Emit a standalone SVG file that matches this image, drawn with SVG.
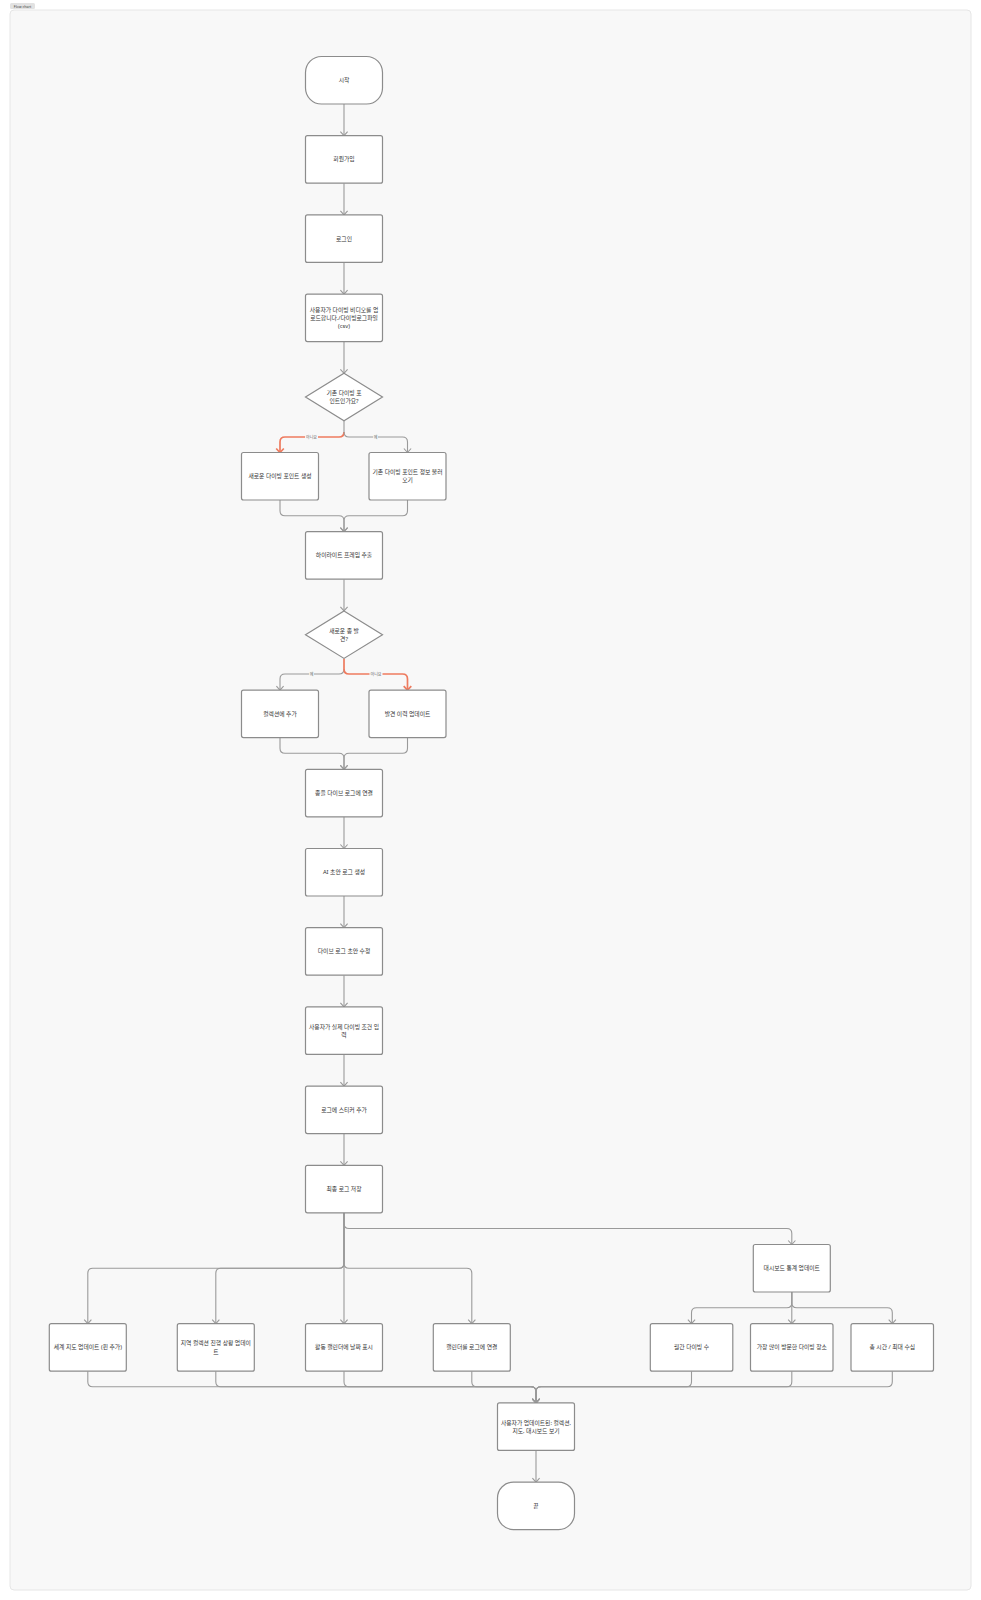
<svg xmlns="http://www.w3.org/2000/svg" width="981" height="1600" viewBox="0 0 981 1600">
<style>
.nd{fill:#ffffff;stroke:#8c8c8c;stroke-width:1.2}
.tx{font-family:"Noto Sans","Noto Sans CJK KR",sans-serif;font-size:5.8px;fill:#333333;text-anchor:middle;dominant-baseline:central}
.e{fill:none;stroke:#9a9a9a;stroke-width:1.1}
.r{fill:none;stroke:#EE7B5F;stroke-width:1.7}
.lb{font-family:"Noto Sans","Noto Sans CJK KR",sans-serif;font-size:4px;fill:#666666;text-anchor:middle;dominant-baseline:central}
.lbg{fill:#f8f8f8}
</style>
<defs>
<marker id="ag" viewBox="-6 -5 7 10" refX="0" refY="0" markerWidth="7" markerHeight="10" markerUnits="userSpaceOnUse" orient="auto">
<path d="M-4,-3.6 L0,0 L-4,3.6" fill="none" stroke="#9a9a9a" stroke-width="1.1"/>
</marker>
<marker id="ar" viewBox="-6 -5 7 10" refX="0" refY="0" markerWidth="7" markerHeight="10" markerUnits="userSpaceOnUse" orient="auto">
<path d="M-4,-3.8 L0,0 L-4,3.8" fill="none" stroke="#EE7B5F" stroke-width="1.7"/>
</marker>
</defs>
<rect x="0" y="0" width="981" height="1600" fill="#ffffff"/>
<rect x="10" y="10" width="961" height="1580" rx="4" fill="#f8f8f8" stroke="#e6e6e6" stroke-width="1"/>
<rect x="10" y="3" width="25" height="6" rx="1.5" fill="#e2e2e2"/>
<text x="22.5" y="6.1" class="lb" style="font-size:3.6px;fill:#444">Flow chart</text>

<g id="connectors">
<path class="e" marker-end="url(#ag)" d="M344,104 V135.7"/>
<path class="e" marker-end="url(#ag)" d="M344,183.2 V214.9"/>
<path class="e" marker-end="url(#ag)" d="M344,262.4 V294.1"/>
<path class="e" marker-end="url(#ag)" d="M344,341.6 V373.3"/>
<path class="r" marker-end="url(#ar)" d="M344,432 Q344,437 339,437 H285 Q280,437 280,442 V452.5"/>
<path class="e" marker-end="url(#ag)" d="M344,420.8 V432 Q344,437 349,437 H402.5 Q407.5,437 407.5,442 V452.5"/>
<path class="e" marker-end="url(#ag)" d="M280,500 V510.7 Q280,515.7 285,515.7 H339 Q344,515.7 344,520.7 V531.7"/>
<path class="e" marker-end="url(#ag)" d="M407.5,500 V510.7 Q407.5,515.7 402.5,515.7 H349 Q344,515.7 344,520.7 V531.7"/>
<path class="e" marker-end="url(#ag)" d="M344,579.2 V610.9"/>
<path class="e" marker-end="url(#ag)" d="M344,669 Q344,674 339,674 H285 Q280,674 280,679 V690.1"/>
<path class="r" marker-end="url(#ar)" d="M344,658.4 V669 Q344,674 349,674 H402.5 Q407.5,674 407.5,679 V690.1"/>
<path class="e" marker-end="url(#ag)" d="M280,737.6 V748.2 Q280,753.2 285,753.2 H339 Q344,753.2 344,758.2 V769.3"/>
<path class="e" marker-end="url(#ag)" d="M407.5,737.6 V748.2 Q407.5,753.2 402.5,753.2 H349 Q344,753.2 344,758.2 V769.3"/>
<path class="e" marker-end="url(#ag)" d="M344,816.8 V848.5"/>
<path class="e" marker-end="url(#ag)" d="M344,896 V927.7"/>
<path class="e" marker-end="url(#ag)" d="M344,975.2 V1006.9"/>
<path class="e" marker-end="url(#ag)" d="M344,1054.4 V1086.1"/>
<path class="e" marker-end="url(#ag)" d="M344,1133.6 V1165.3"/>
<path class="e" marker-end="url(#ag)" d="M344,1212.8 V1223.5 Q344,1228.5 349,1228.5 H786.8 Q791.8,1228.5 791.8,1233.5 V1244.5"/>
<path class="e" marker-end="url(#ag)" d="M344,1212.8 V1263.3 Q344,1268.3 339,1268.3 H92.8 Q87.8,1268.3 87.8,1273.3 V1323.7"/>
<path class="e" marker-end="url(#ag)" d="M344,1212.8 V1263.3 Q344,1268.3 339,1268.3 H220.8 Q215.8,1268.3 215.8,1273.3 V1323.7"/>
<path class="e" marker-end="url(#ag)" d="M344,1212.8 V1323.7"/>
<path class="e" marker-end="url(#ag)" d="M344,1212.8 V1263.3 Q344,1268.3 349,1268.3 H466.8 Q471.8,1268.3 471.8,1273.3 V1323.7"/>
<path class="e" marker-end="url(#ag)" d="M791.8,1292 V1302.7 Q791.8,1307.7 786.8,1307.7 H696.5 Q691.5,1307.7 691.5,1312.7 V1323.7"/>
<path class="e" marker-end="url(#ag)" d="M791.8,1292 V1323.7"/>
<path class="e" marker-end="url(#ag)" d="M791.8,1292 V1302.7 Q791.8,1307.7 796.8,1307.7 H887.3 Q892.3,1307.7 892.3,1312.7 V1323.7"/>
<path class="e" marker-end="url(#ag)" d="M87.8,1371.2 V1381.7 Q87.8,1386.7 92.8,1386.7 H531 Q536,1386.7 536,1391.7 V1402.9"/>
<path class="e" marker-end="url(#ag)" d="M215.8,1371.2 V1381.7 Q215.8,1386.7 220.8,1386.7 H531 Q536,1386.7 536,1391.7 V1402.9"/>
<path class="e" marker-end="url(#ag)" d="M344,1371.2 V1381.7 Q344,1386.7 349,1386.7 H531 Q536,1386.7 536,1391.7 V1402.9"/>
<path class="e" marker-end="url(#ag)" d="M471.8,1371.2 V1381.7 Q471.8,1386.7 476.8,1386.7 H531 Q536,1386.7 536,1391.7 V1402.9"/>
<path class="e" marker-end="url(#ag)" d="M691.5,1371.2 V1381.7 Q691.5,1386.7 686.5,1386.7 H541 Q536,1386.7 536,1391.7 V1402.9"/>
<path class="e" marker-end="url(#ag)" d="M791.8,1371.2 V1381.7 Q791.8,1386.7 786.8,1386.7 H541 Q536,1386.7 536,1391.7 V1402.9"/>
<path class="e" marker-end="url(#ag)" d="M892.3,1371.2 V1381.7 Q892.3,1386.7 887.3,1386.7 H541 Q536,1386.7 536,1391.7 V1402.9"/>
<path class="e" marker-end="url(#ag)" d="M536,1450.4 V1482.1"/>
<rect class="lbg" x="305" y="434.5" width="13" height="5"/>
<text class="lb" x="311.5" y="437">아니요</text>
<rect class="lbg" x="373" y="434.5" width="5" height="5"/>
<text class="lb" x="375.5" y="437">예</text>
<rect class="lbg" x="309" y="671.5" width="5" height="5"/>
<text class="lb" x="311.5" y="674">예</text>
<rect class="lbg" x="369.5" y="671.5" width="13" height="5"/>
<text class="lb" x="376" y="674">아니요</text>
</g>

<g id="n0"><rect class="nd" x="305.5" y="56.5" width="77" height="47.5" rx="16"/><text class="tx" x="344" y="80.25">시작</text></g>
<g id="n1"><rect class="nd" x="305.5" y="135.7" width="77" height="47.5" rx="2"/><text class="tx" x="344" y="159.45">회원가입</text></g>
<g id="n2"><rect class="nd" x="305.5" y="214.9" width="77" height="47.5" rx="2"/><text class="tx" x="344" y="238.65">로그인</text></g>
<g id="n3"><rect class="nd" x="305.5" y="294.1" width="77" height="47.5" rx="2"/><text class="tx" x="344" y="309.55">사용자가 다이빙 비디오를 업</text><text class="tx" x="344" y="317.85">로드합니다./다이빙로그파일</text><text class="tx" x="344" y="326.15">(csv)</text></g>
<g id="n4"><polygon class="nd" points="344,373.3 382.5,397.05 344,420.8 305.5,397.05"/><text class="tx" x="344" y="392.9">기존 다이빙 포</text><text class="tx" x="344" y="401.2">인트인가요?</text></g>
<g id="n5a"><rect class="nd" x="241.5" y="452.5" width="77" height="47.5" rx="2"/><text class="tx" x="280" y="476.25">새로운 다이빙 포인트 생성</text></g>
<g id="n5b"><rect class="nd" x="369" y="452.5" width="77" height="47.5" rx="2"/><text class="tx" x="407.5" y="472.1">기존 다이빙 포인트 정보 불러</text><text class="tx" x="407.5" y="480.4">오기</text></g>
<g id="n6"><rect class="nd" x="305.5" y="531.7" width="77" height="47.5" rx="2"/><text class="tx" x="344" y="555.45">하이라이트 프레임 추출</text></g>
<g id="n7"><polygon class="nd" points="344,610.9 382.5,634.65 344,658.4 305.5,634.65"/><text class="tx" x="344" y="630.5">새로운 종 발</text><text class="tx" x="344" y="638.8">견?</text></g>
<g id="n8a"><rect class="nd" x="241.5" y="690.1" width="77" height="47.5" rx="2"/><text class="tx" x="280" y="713.85">컬렉션에 추가</text></g>
<g id="n8b"><rect class="nd" x="369" y="690.1" width="77" height="47.5" rx="2"/><text class="tx" x="407.5" y="713.85">발견 이력 업데이트</text></g>
<g id="n9"><rect class="nd" x="305.5" y="769.3" width="77" height="47.5" rx="2"/><text class="tx" x="344" y="793.05">종을 다이브 로그에 연결</text></g>
<g id="n10"><rect class="nd" x="305.5" y="848.5" width="77" height="47.5" rx="2"/><text class="tx" x="344" y="872.25">AI 초안 로그 생성</text></g>
<g id="n11"><rect class="nd" x="305.5" y="927.7" width="77" height="47.5" rx="2"/><text class="tx" x="344" y="951.45">다이브 로그 초안 수정</text></g>
<g id="n12"><rect class="nd" x="305.5" y="1006.9" width="77" height="47.5" rx="2"/><text class="tx" x="344" y="1026.5">사용자가 실제 다이빙 조건 입</text><text class="tx" x="344" y="1034.8">력</text></g>
<g id="n13"><rect class="nd" x="305.5" y="1086.1" width="77" height="47.5" rx="2"/><text class="tx" x="344" y="1109.85">로그에 스티커 추가</text></g>
<g id="n14"><rect class="nd" x="305.5" y="1165.3" width="77" height="47.5" rx="2"/><text class="tx" x="344" y="1189.05">최종 로그 저장</text></g>
<g id="n15"><rect class="nd" x="753.3" y="1244.5" width="77" height="47.5" rx="2"/><text class="tx" x="791.8" y="1268.25">대시보드 통계 업데이트</text></g>
<g id="n16a"><rect class="nd" x="49.3" y="1323.7" width="77" height="47.5" rx="2"/><text class="tx" x="87.8" y="1347.45">세계 지도 업데이트 (핀 추가)</text></g>
<g id="n16b"><rect class="nd" x="177.3" y="1323.7" width="77" height="47.5" rx="2"/><text class="tx" x="215.8" y="1343.3">지역 컬렉션 진행 상황 업데이</text><text class="tx" x="215.8" y="1351.6">트</text></g>
<g id="n16c"><rect class="nd" x="305.5" y="1323.7" width="77" height="47.5" rx="2"/><text class="tx" x="344" y="1347.45">활동 캘린더에 날짜 표시</text></g>
<g id="n16d"><rect class="nd" x="433.3" y="1323.7" width="77" height="47.5" rx="2"/><text class="tx" x="471.8" y="1347.45">캘린더를 로그에 연결</text></g>
<g id="n16e"><rect class="nd" x="650.3" y="1323.7" width="82.5" height="47.5" rx="2"/><text class="tx" x="691.5" y="1347.45">월간 다이빙 수</text></g>
<g id="n16f"><rect class="nd" x="750.5" y="1323.7" width="82.5" height="47.5" rx="2"/><text class="tx" x="791.8" y="1347.45">가장 많이 방문한 다이빙 장소</text></g>
<g id="n16g"><rect class="nd" x="851" y="1323.7" width="82.5" height="47.5" rx="2"/><text class="tx" x="892.3" y="1347.45">총 시간 / 최대 수심</text></g>
<g id="n17"><rect class="nd" x="497.5" y="1402.9" width="77" height="47.5" rx="2"/><text class="tx" x="536" y="1422.5">사용자가 업데이트된: 컬렉션,</text><text class="tx" x="536" y="1430.8">지도, 대시보드 보기</text></g>
<g id="n18"><rect class="nd" x="497.5" y="1482.1" width="77" height="47.5" rx="16"/><text class="tx" x="536" y="1505.85">끝</text></g>
</svg>
